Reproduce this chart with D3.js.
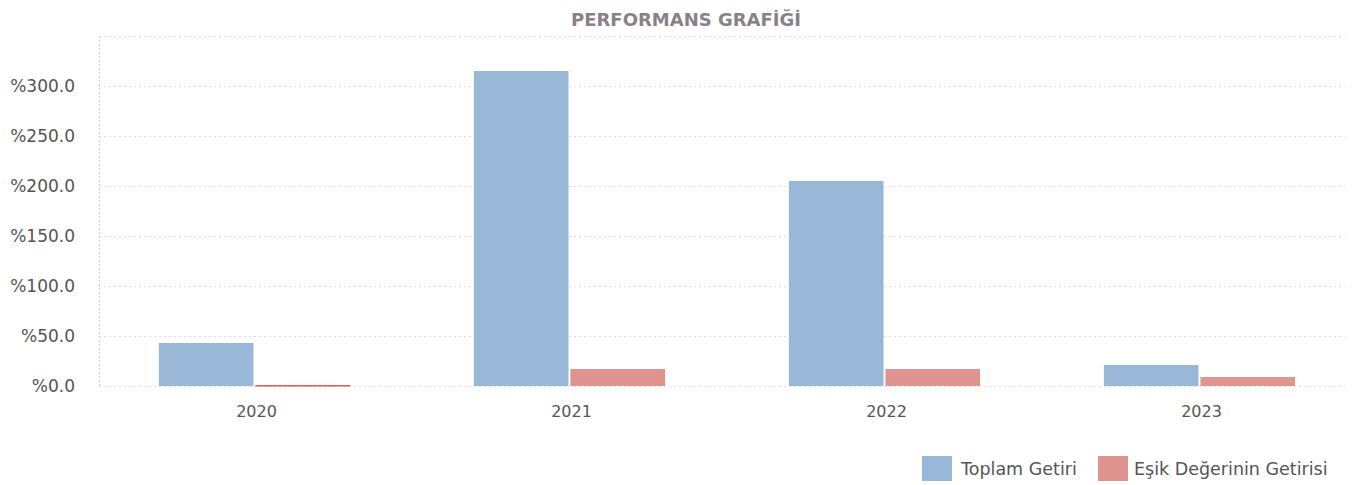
<!DOCTYPE html>
<html><head><meta charset="utf-8">
<script src="https://cdn.jsdelivr.net/npm/d3@7/dist/d3.min.js"></script>
<style>body{margin:0;background:#fff;}svg{display:block;}</style>
</head><body>
<svg id="c" width="1365" height="485"></svg>
<script>
const categories = ["2020", "2021", "2022", "2023"];
const seriesNames = ["Toplam Getiri", "Eşik Değerinin Getirisi"];
const toplamGetiri = [43, 315, 205, 21];
const esikGetirisi = [1, 17, 17, 9];
const yTicks = [0, 50, 100, 150, 200, 250, 300];
const gridTicks = [0, 50, 100, 150, 200, 250, 300, 350];
const colors = ["#99b8d8", "#e09490"];

(function () {
const svg = d3.select("#c");
const font = "'DejaVu Sans', Verdana, sans-serif";
const mLeft = 99, mRight = 1359, mTop = 36, mBottom = 386;

const y = d3.scaleLinear().domain([0, 350]).range([mBottom, mTop]);
const x0 = d3.scaleBand().domain(categories).range([mLeft, mRight]).padding(0);
const bw = x0.bandwidth();
const x1 = d3.scaleBand().domain(seriesNames).range([bw * 0.19, bw * 0.797]).paddingInner(0.02);

// title
svg.append("text").attr("x", 686).attr("y", 26).attr("text-anchor", "middle")
  .attr("font-family", font).attr("font-size", 18).attr("font-weight", "bold")
  .attr("fill", "#8a7f8a").text("PERFORMANS GRAFİĞİ");

// grid
svg.append("g").selectAll("line").data(gridTicks).join("line")
  .attr("x1", mLeft).attr("x2", 1345).attr("y1", d => y(d) + 0.5).attr("y2", d => y(d) + 0.5)
  .attr("stroke", "#dcdcdc").attr("stroke-dasharray", "2,3");

// y axis
const yAxis = d3.axisLeft(y).tickValues(yTicks).tickSize(0).tickPadding(24)
  .tickFormat(d => "%" + d3.format(".1f")(d));
const gy = svg.append("g").attr("transform", `translate(${mLeft},0)`).call(yAxis);
gy.select(".domain").remove();
gy.selectAll("text").attr("font-family", font).attr("font-size", 17).attr("fill", "#555");
svg.append("line").attr("x1", mLeft + 0.5).attr("x2", mLeft + 0.5).attr("y1", mTop).attr("y2", mBottom)
  .attr("stroke", "#d0d0d0").attr("stroke-dasharray", "2,2");

// x axis
const xAxis = d3.axisBottom(x0).tickSize(0).tickPadding(20);
const gx = svg.append("g").attr("transform", `translate(0,${mBottom})`).call(xAxis);
gx.select(".domain").remove();
gx.selectAll("text").attr("font-family", font).attr("font-size", 16).attr("fill", "#555");

// bars
const rows = categories.map((c, i) => ({cat: c, vals: [toplamGetiri[i], esikGetirisi[i]]}));
const groups = svg.append("g").selectAll("g").data(rows).join("g")
  .attr("transform", d => `translate(${x0(d.cat)},0)`);
groups.selectAll("rect").data(d => d.vals.map((v, j) => ({s: seriesNames[j], v, j}))).join("rect")
  .attr("x", d => x1(d.s)).attr("width", x1.bandwidth())
  .attr("y", d => y(d.v)).attr("height", d => Math.max(1.5, y(0) - y(d.v)))
  .attr("fill", d => d.v < 2 ? "#d85a55" : colors[d.j]);

// legend
const legend = svg.append("g");
const items = [{x: 922, tx: 961}, {x: 1098, tx: 1134}];
seriesNames.forEach((n, i) => {
  legend.append("rect").attr("x", items[i].x).attr("y", 456).attr("width", 30).attr("height", 25)
    .attr("fill", colors[i]);
  legend.append("text").attr("x", items[i].tx).attr("y", 475).attr("font-family", font)
    .attr("font-size", 17.5).attr("fill", "#555").text(n);
});
})();
</script>
</body></html>
